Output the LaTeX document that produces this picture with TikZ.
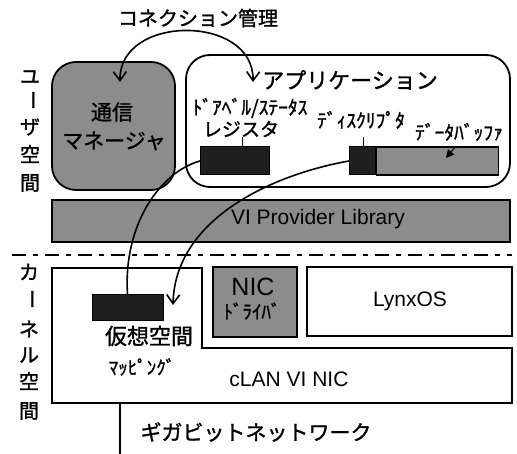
\documentclass[tikz,border=0pt]{standalone}
\usepackage{fontspec}
\setmainfont{Liberation Sans}
\newfontfamily\jp{Noto Sans CJK JP}[FakeBold=1.3]
\usetikzlibrary{arrows.meta}
\tikzset{
  box/.style={draw=black, line width=1.8pt},
  rbox/.style={box, rounded corners=24pt},
  halftone/.style={fill=black!45},
  dark/.style={fill=black!88},
  lbl/.style={inner sep=0pt, font=\jp\fontsize{20}{22}\selectfont},
  small/.style={inner sep=0pt, font=\jp\fontsize{19.5}{21}\selectfont},
  lat/.style={inner sep=0pt, font=\fontsize{21}{24}\selectfont},
  conn/.style={line width=1.6pt},
  barb/.style={-{Straight Barb[length=9pt,width=13pt,line width=1.6pt]}},
  dbarb/.style={{Straight Barb[length=9pt,width=13pt,line width=1.6pt]}-{Straight Barb[length=9pt,width=13pt,line width=1.6pt]}},
  tick/.style={line width=1pt},
}
\begin{document}
\begin{tikzpicture}[x=1pt,y=-1pt]
\useasboundingbox (0,0) rectangle (517,454);
% title
\node[lbl] (title) at (198,18) {コネクション管理};
% left vertical labels, user space
\node[lbl] (u1) at (30,77) {ユ};
\node[lbl,rotate=-90] (u2) at (30,100) {ー};
\node[lbl] (u3) at (30,127) {ザ};
\node[lbl] (u4) at (30,154) {空};
\node[lbl] (u5) at (30,183) {間};
% kernel space labels
\node[lbl] (k1) at (29,272) {カ};
\node[lbl,rotate=-90] (k2) at (29,299) {ー};
\node[lbl] (k3) at (29,329) {ネ};
\node[lbl] (k4) at (29,355) {ル};
\node[lbl] (k5) at (29,381) {空};
\node[lbl] (k6) at (29,411) {間};
% communication manager
\draw[rbox, halftone] (52,62) rectangle (175,190);
\node[lbl,font=\jp\fontsize{21}{23}\selectfont] (comm1) at (112,112) {通信};
\node[lbl,font=\jp\fontsize{21}{23}\selectfont] (comm2) at (114,141) {マネージャ};
% application box
\draw[rbox] (186,55) rectangle (510,187);
\node[lbl,font=\jp\fontsize{22}{24}\selectfont] (app) at (350,80) {アプリケーション};
\node[small] (doorbell) at (250,108) {ﾄﾞｱﾍﾞﾙ/ｽﾃｰﾀｽ};
\node[lbl,font=\jp\fontsize{19}{21}\selectfont] (reglbl) at (241,129) {レジスタ};
\node[box, dark, minimum width=69pt, minimum height=28pt, inner sep=0pt, line width=1pt] (reg) at (235,161) {};
\node[small] (desclbl) at (361,120) {ﾃﾞｨｽｸﾘﾌﾟﾀ};
\node[small] (buflbl) at (459,132) {ﾃﾞｰﾀﾊﾞｯﾌｧ};
\node[box, dark, minimum width=26pt, minimum height=28pt, inner sep=0pt, line width=1pt] (desc) at (362.5,161) {};
\node[box, halftone, minimum width=122pt, minimum height=28pt, inner sep=0pt, line width=1.4pt, anchor=west] (buf) at (desc.east) {};
\coordinate (rt) at (242,137);
\draw[tick] (rt) -- (rt |- reg.north);
\coordinate (dt) at (363,137);
\draw[tick] (dt) -- (dt |- desc.north);
\coordinate (bufpt) at (446,158);
\coordinate (bufsrc) at (456,146);
\draw[line width=1pt, -{Triangle[length=8pt,width=8pt]}] (bufsrc) -- (bufpt);
% VI provider library
\draw[box, halftone] (52,200) rectangle (510,242);
\node[lat] (vipl) at (318,219) {VI Provider Library};
% divider
\coordinate (dl) at (12,255);
\coordinate (dr) at (512,255);
\draw[line width=2.2pt, dash pattern=on 14pt off 7pt on 5pt off 7pt] (dl) -- (dr);
% kernel
\draw[box] (52,268) -- (202,268) -- (202,348) -- (512,348) -- (512,403) -- (52,403) -- cycle;
\node[box, dark, minimum width=71pt, minimum height=26pt, inner sep=0pt, line width=1pt] (vmap) at (127.5,308) {};
\node[lbl,font=\jp\fontsize{22}{24}\selectfont] (vlbl) at (149,336) {仮想空間};
\node[small,font=\jp\fontsize{19}{21}\selectfont] (mlbl) at (142,367) {ﾏｯﾋﾟﾝｸﾞ};
\node[lat] (clan) at (289,379) {cLAN VI NIC};
\draw[box, halftone] (213,267) rectangle (297,337);
\node[lat,font=\fontsize{25}{27}\selectfont] (nic) at (253,287) {NIC};
\node[small,font=\jp\fontsize{19}{21}\selectfont] (drv) at (252,311) {ﾄﾞﾗｲﾊﾞ};
\draw[box] (307,267) rectangle (512,336);
\node[lat] (lynx) at (410,301) {LynxOS};
% network
\coordinate (net0) at (120,403);
\coordinate (net1) at (120,454);
\draw[line width=1.8pt] (net0) -- (net1);
\node[lbl,font=\jp\fontsize{21}{23}\selectfont] (gig) at (256,432) {ギガビットネットワーク};
% connection management arc
\coordinate (ca) at (120,82);
\coordinate (cb) at (253,82);
\draw[conn, dbarb] (ca) .. controls (119,14) and (254,14) .. (cb);
% mapping curves
\draw[conn] (reg.west) .. controls (160,172) and (123,225) .. (vmap.north);
\coordinate (mt) at (173,305);
\draw[conn, barb] (desc.west) .. controls (270,175) and (175,220) .. (mt);
\end{tikzpicture}
\end{document}
